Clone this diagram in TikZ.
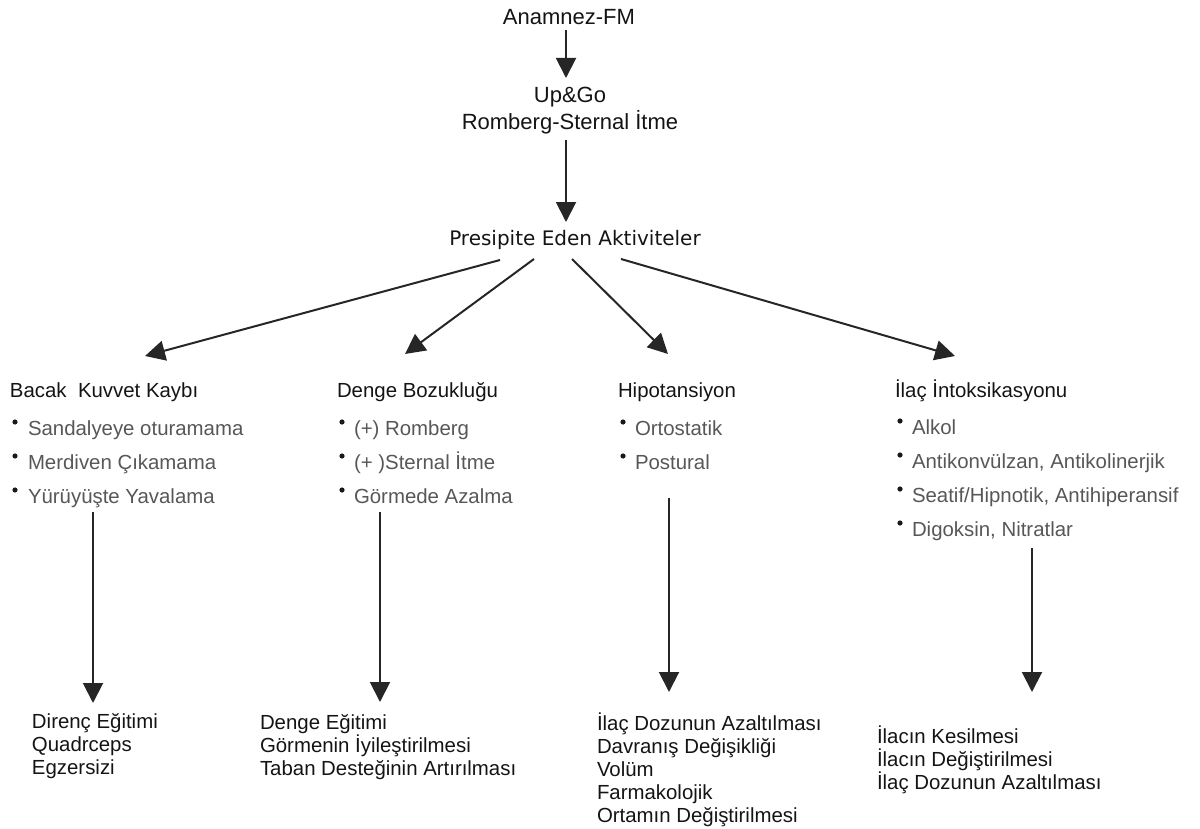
\documentclass[tikz,border=0pt]{standalone}
\usepackage{fontspec}
\setmainfont{Liberation Sans}
\newfontfamily\wideface{DejaVu Sans}
\usetikzlibrary{arrows.meta}
\begin{document}
\begin{tikzpicture}[x=0.5pt,y=-0.5pt,
  every node/.style={inner sep=0pt, outer sep=0pt, text=black!92,
    font=\fontsize{10.2}{11.5}\selectfont},
  toplbl/.style={anchor=base, font=\fontsize{11}{13.5}\selectfont},
  midlbl/.style={anchor=base, font=\wideface\fontsize{10}{12}\selectfont},
  head/.style={anchor=base west},
  item/.style={anchor=base west, text=black!66},
  res/.style={anchor=base west, align=left},
  dot/.style={circle, fill=black!90, minimum size=2.6pt},
  arr/.style={line width=1pt, draw=black!85, -{Triangle[length=10pt,width=10pt]}}
]
\useasboundingbox (0,0) rectangle (1200,829);

% top chain (base anchor of a multi-line node = last line)
\node[toplbl] (anam) at (569,25) {Anamnez-FM};
\node[toplbl, align=center] (upgo) at (570,130) {Up\&Go\\Romberg-Sternal İtme};
\node[midlbl] (pres) at (575,245) {Presipite Eden Aktiviteler};

\coordinate (a1s) at (566,30);  \coordinate (a1e) at (566,78);
\coordinate (a2s) at (566,140); \coordinate (a2e) at (566,222);
\draw[arr] (a1s) -- (a1e);
\draw[arr] (a2s) -- (a2e);

% column headings
\node[head] (h1) at (10,397) {Bacak~~Kuvvet Kaybı};
\node[head] (h2) at (337,397) {Denge Bozukluğu};
\node[head] (h3) at (618,397) {Hipotansiyon};
\node[head] (h4) at (895,397) {İlaç İntoksikasyonu};

% fan-out arrows
\coordinate (s1) at (500,260); \coordinate (t1) at (145,356);
\coordinate (s2) at (534,259); \coordinate (t2) at (405,354);
\coordinate (s3) at (572,259); \coordinate (t3) at (668,354);
\coordinate (s4) at (621,259); \coordinate (t4) at (955,356);
\draw[arr] (s1) -- (t1);
\draw[arr] (s2) -- (t2);
\draw[arr] (s3) -- (t3);
\draw[arr] (s4) -- (t4);

% column 1 items
\node[dot] (d11) at (15,422) {};
\node[item] (i11) at (28,435) {Sandalyeye oturamama};
\node[dot] (d12) at (15,456) {};
\node[item] (i12) at (28,469) {Merdiven Çıkamama};
\node[dot] (d13) at (15,490) {};
\node[item] (i13) at (28,503) {Yürüyüşte Yavalama};

% column 2 items
\node[dot] (d21) at (342,422) {};
\node[item] (i21) at (354,435) {(+) Romberg};
\node[dot] (d22) at (342,456) {};
\node[item] (i22) at (354,469) {(+ )Sternal İtme};
\node[dot] (d23) at (342,490) {};
\node[item] (i23) at (354,503) {Görmede Azalma};

% column 3 items
\node[dot] (d31) at (623,422) {};
\node[item] (i31) at (635,435) {Ortostatik};
\node[dot] (d32) at (623,456) {};
\node[item] (i32) at (635,469) {Postural};

% column 4 items
\node[dot] (d41) at (900,421) {};
\node[item] (i41) at (912,434) {Alkol};
\node[dot] (d42) at (900,455) {};
\node[item] (i42) at (912,468) {Antikonvülzan, Antikolinerjik};
\node[dot] (d43) at (900,489) {};
\node[item] (i43) at (912,502) {Seatif/Hipnotik, Antihiperansif};
\node[dot] (d44) at (900,523) {};
\node[item] (i44) at (912,536) {Digoksin, Nitratlar};

% vertical arrows
\coordinate (v1s) at (93,512);   \coordinate (v1e) at (93,703);
\coordinate (v2s) at (380,512);  \coordinate (v2e) at (380,702);
\coordinate (v3s) at (669,498);  \coordinate (v3e) at (669,692);
\coordinate (v4s) at (1032,548); \coordinate (v4e) at (1032,692);
\draw[arr] (v1s) -- (v1e);
\draw[arr] (v2s) -- (v2e);
\draw[arr] (v3s) -- (v3e);
\draw[arr] (v4s) -- (v4e);

% results (base = last line)
\node[res] (r1) at (32,774) {Direnç Eğitimi\\Quadrceps\\Egzersizi};
\node[res] (r2) at (260,775) {Denge Eğitimi\\Görmenin İyileştirilmesi\\Taban Desteğinin Artırılması};
\node[res] (r3) at (597,822) {İlaç Dozunun Azaltılması\\Davranış Değişikliği\\Volüm\\Farmakolojik\\Ortamın Değiştirilmesi};
\node[res] (r4) at (877,789) {İlacın Kesilmesi\\İlacın Değiştirilmesi\\İlaç Dozunun Azaltılması};
\end{tikzpicture}
\end{document}
